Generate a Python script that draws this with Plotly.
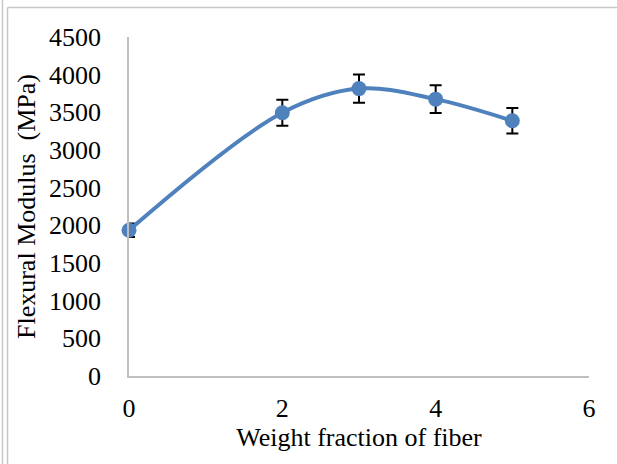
import plotly.graph_objects as go

x_vals = [0, 2, 3, 4, 5]
modulus = [1935, 3495, 3815, 3675, 3388]
err = [90, 172, 188, 184, 168]
x_ticks = [0, 2, 4, 6]
y_ticks = [0, 500, 1000, 1500, 2000, 2500, 3000, 3500, 4000, 4500]

W, H = 617, 464
L, R, T, B = 129, 28, 37, 88
pw, ph = W - L - R, H - T - B

def px(xp):
    return (xp - L) / pw

def py(yp):
    return (H - B - yp) / ph

fig = go.Figure()
fig.add_trace(go.Scatter(
    x=x_vals, y=modulus, mode="lines+markers",
    line=dict(color="#4F81BD", width=4, shape="spline", smoothing=1),
    marker=dict(color="#4F81BD", size=15),
    error_y=dict(type="data", array=err, visible=True, color="black",
                 thickness=2, width=6),
    cliponaxis=False,
))

font = dict(family="Liberation Serif, Times New Roman, serif", color="black")
fig.update_layout(
    width=W, height=H,
    margin=dict(l=L, r=R, t=T, b=B),
    paper_bgcolor="white", plot_bgcolor="white",
    showlegend=False,
    font=dict(size=26, **font),
    xaxis=dict(range=[0, 6], tickvals=x_ticks, showgrid=False, zeroline=False,
               showline=True, linecolor="#BFBFBF", linewidth=1.5, ticks="",
               tickfont=dict(size=26, **font), ticklabelstandoff=8,
               title=dict(text="Weight fraction of fiber", font=dict(size=26, **font), standoff=6)),
    yaxis=dict(range=[0, 4500], tickvals=y_ticks, showgrid=False, zeroline=False,
               showline=True, linecolor="#BFBFBF", linewidth=1.5, ticks="",
               tickfont=dict(size=26, **font), ticklabelstandoff=21,
               title=dict(text="Flexural Modulus  (MPa)", font=dict(size=26, **font), standoff=6)),
)

fig.add_shape(type="line", xref="paper", yref="paper", x0=px(2.5), x1=px(2.5), y0=py(0), y1=py(H),
              line=dict(color="#C8C8C8", width=1.5))
fig.add_shape(type="line", xref="paper", yref="paper", x0=px(7.5), x1=px(7.5), y0=py(7.5), y1=py(H),
              line=dict(color="#C8C8C8", width=1.5))
fig.add_shape(type="line", xref="paper", yref="paper", x0=px(7.5), x1=px(W), y0=py(7.5), y1=py(7.5),
              line=dict(color="#C8C8C8", width=1.5))

fig.write_html("out.html", config={"displayModeBar": False},
               post_script="document.body.style.margin='0px';")
